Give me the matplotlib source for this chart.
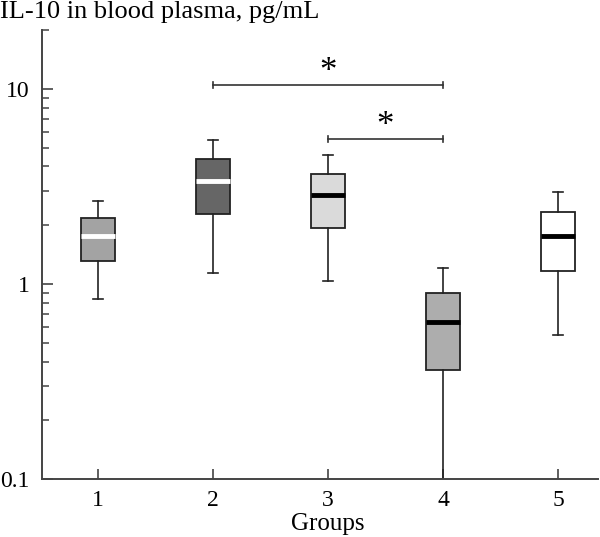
import matplotlib
matplotlib.use('Agg')
import matplotlib.pyplot as plt
from matplotlib.ticker import LogLocator, FixedLocator, NullFormatter

plt.rcParams['font.family'] = ['Liberation Serif', 'DejaVu Serif']

groups = [1, 2, 3, 4, 5]
whislo = [0.84, 1.14, 1.04, 0.08, 0.55]
q1 = [1.31, 2.28, 1.94, 0.364, 1.17]
med = [1.75, 3.36, 2.84, 0.64, 1.76]
q3 = [2.18, 4.36, 3.68, 0.90, 2.33]
whishi = [2.67, 5.47, 4.59, 1.21, 2.96]
fills = ['#a3a3a3', '#666666', '#dadada', '#adadad', '#ffffff']
med_colors = ['white', 'white', 'black', 'black', 'black']

# significance brackets: (from, to, level)
brackets = [(2, 4, 10.5), (3, 4, 5.55)]

fig = plt.figure(figsize=(6, 5.37), dpi=100)
ax = fig.add_axes([0.07, 0.108, 0.927, 0.836])

stats = []
for i in range(len(groups)):
    stats.append(dict(whislo=whislo[i], q1=q1[i], med=med[i], q3=q3[i], whishi=whishi[i]))

bp = ax.bxp(stats, positions=groups, widths=0.3, capwidths=0.085, showfliers=False,
            patch_artist=True,
            boxprops=dict(linewidth=1.3, edgecolor='#222222'),
            whiskerprops=dict(linewidth=1.2, color='#222222'),
            capprops=dict(linewidth=1.2, color='#222222'),
            medianprops=dict(linewidth=3.5))
for patch, c in zip(bp['boxes'], fills):
    patch.set_facecolor(c)
for line, c in zip(bp['medians'], med_colors):
    line.set_color(c)
    line.set_solid_capstyle('butt')

for a, b, y in brackets:
    ax.plot([a, b], [y, y], color='#333333', lw=1.2)
    for xx in (a, b):
        ax.plot([xx, xx], [y * 0.965, y * 1.035], color='#333333', lw=1.2)
    ax.text((a + b) / 2, y * 0.95, '*', ha='center', va='bottom', fontsize=25)

ax.set_yscale('log')
ax.set_ylim(0.1, 20)
ax.set_xlim(0.513, 5.35)

ax.yaxis.set_major_locator(FixedLocator([0.1, 1, 10]))
ax.set_yticklabels(['0.1', '1', '10'])
ax.yaxis.set_minor_locator(LogLocator(base=10, subs=range(2, 10)))
ax.yaxis.set_minor_formatter(NullFormatter())
ax.set_xticks(groups)
ax.set_xticklabels([str(g) for g in groups])

ax.tick_params(axis='y', which='major', direction='in', length=8, width=1.2,
               labelsize=17, pad=9, color='#444444')
ax.tick_params(axis='y', which='minor', direction='in', length=5, width=1.1, color='#444444')
ax.tick_params(axis='x', direction='in', length=7, width=1.2, labelsize=17, pad=8,
               color='#444444')

for s in ['top', 'right']:
    ax.spines[s].set_visible(False)
for s in ['left', 'bottom']:
    ax.spines[s].set_linewidth(1.4)
    ax.spines[s].set_color('#444444')

ax.set_xlabel('Groups', fontsize=18, labelpad=3)
ax.xaxis.set_label_coords(0.514, -0.075)
fig.text(0.0, 0.998, 'IL-10 in blood plasma, pg/mL', ha='left', va='top', fontsize=19)

fig.savefig('out.png', dpi=100)
